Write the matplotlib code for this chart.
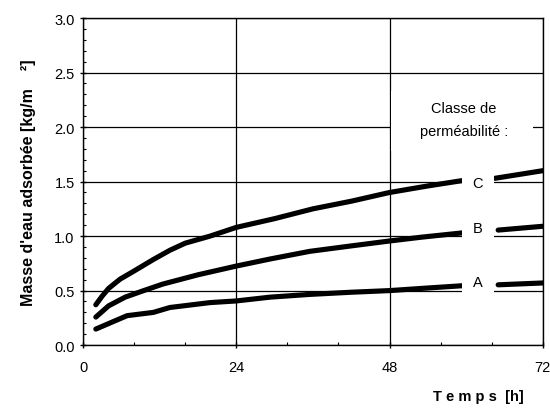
import matplotlib
matplotlib.use("Agg")
import matplotlib.pyplot as plt
from matplotlib.ticker import MultipleLocator
from matplotlib.patches import Rectangle

plt.rcParams['font.family'] = ['Liberation Sans', 'DejaVu Sans']

# Data (time in hours, mass in kg/m2)
c_t = [2, 3, 4, 5.8, 8, 11, 13.6, 16, 19.9, 24, 30, 36, 42, 48, 54, 59.5]
c_m = [0.37, 0.45, 0.52, 0.605, 0.68, 0.785, 0.87, 0.935, 1.0, 1.08, 1.16, 1.25, 1.32, 1.40, 1.46, 1.51]
c_t2 = [64.5, 72]
c_m2 = [1.53, 1.60]

b_t = [2, 4, 6.6, 9.5, 12.5, 18, 24, 29.3, 35.5, 42, 48, 53, 59.5]
b_m = [0.257, 0.36, 0.44, 0.50, 0.56, 0.645, 0.725, 0.79, 0.86, 0.91, 0.955, 0.99, 1.03]
b_t2 = [65, 72]
b_m2 = [1.055, 1.09]

a_t = [2, 4.5, 6.9, 11, 13.6, 19.9, 24, 29.3, 35.5, 42, 48, 53, 59.5]
a_m = [0.147, 0.21, 0.27, 0.30, 0.345, 0.39, 0.405, 0.44, 0.465, 0.485, 0.50, 0.52, 0.545]
a_t2 = [65, 72]
a_m2 = [0.553, 0.57]

labels = ["C", "B", "A"]
label_pos = [(61.8, 1.49), (61.8, 1.07), (61.8, 0.58)]
legend_title = "Classe de\nperméabilité :"

fig = plt.figure(figsize=(5.5, 4.14), dpi=100)
ax = fig.add_axes([0.151, 0.164, 0.836, 0.790])

ax.set_xlim(0, 72)
ax.set_ylim(0, 3.0)
ax.set_xticks([0, 24, 48, 72])
ax.set_yticks([0, 0.5, 1.0, 1.5, 2.0, 2.5, 3.0])
ax.set_yticklabels(["0.0", "0.5", "1.0", "1.5", "2.0", "2.5", "3.0"])
ax.xaxis.set_minor_locator(MultipleLocator(8))
ax.yaxis.set_minor_locator(MultipleLocator(0.1))
ax.grid(True, which='major', color='black', linewidth=0.9)
ax.tick_params(axis='both', which='major', labelsize=10.5, length=5, width=1, direction='inout')
ax.tick_params(axis='both', which='minor', length=2.5, width=0.8, direction='in')
ax.tick_params(axis='x', pad=8)
for s in ax.spines.values():
    s.set_linewidth(1.0)

kw = dict(color='black', linewidth=3.7, solid_capstyle='round', solid_joinstyle='round', zorder=3)
for t, m in [(c_t, c_m), (c_t2, c_m2), (b_t, b_m), (b_t2, b_m2), (a_t, a_m), (a_t2, a_m2)]:
    ax.plot(t, m, **kw)

for lab, (x, y) in zip(labels, label_pos):
    ax.text(x, y, lab, ha='center', va='center', fontsize=10.5, zorder=4,
            bbox=dict(facecolor='white', edgecolor='none', boxstyle='square,pad=0.75'))

# white background behind the legend title (hides the grid line)
ax.add_patch(Rectangle((48.3, 1.78), 22.1, 0.55, facecolor='white', edgecolor='none', zorder=2))
ax.text(59.6, 2.07, legend_title, ha='center', va='center', fontsize=10.5,
        linespacing=1.75, zorder=4)

ax.set_ylabel("Masse d'eau adsorbée [kg/m    ²]", fontsize=11.5, fontweight='bold', labelpad=13)
fig.text(0.87, 0.04, "T e m p s  [h]", ha='center', va='center', fontsize=10.5, fontweight='bold')

fig.savefig("out.png", dpi=100)
